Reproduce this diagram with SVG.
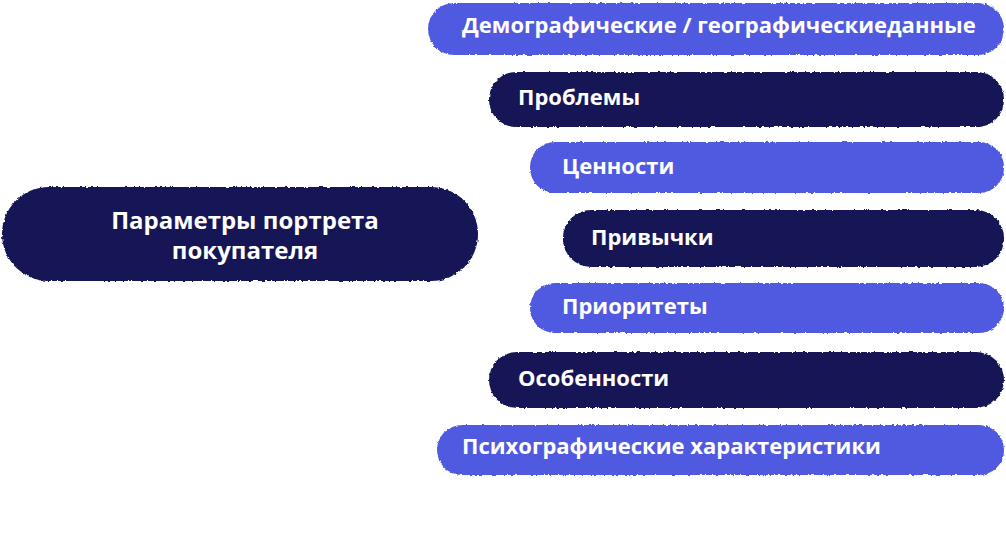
<svg xmlns="http://www.w3.org/2000/svg" width="1006" height="537" viewBox="0 0 1006 537">
<defs>
<filter id="rough" x="-2%" y="-10%" width="104%" height="120%">
<feTurbulence type="fractalNoise" baseFrequency="0.35" numOctaves="2" seed="3" result="n"/>
<feDisplacementMap in="SourceGraphic" in2="n" scale="3" xChannelSelector="R" yChannelSelector="G"/>
</filter>
</defs>
<style>
.blue{fill:#4f5ae0;filter:url(#rough)}
.navy{fill:#131856;filter:url(#rough)}
.t{font-family:"Open Sans","Noto Sans","Liberation Sans",sans-serif;font-weight:700;font-size:22px;fill:#ffffff}
.m{font-size:24px;text-anchor:middle}
</style>
<rect width="1006" height="537" fill="#ffffff"/>
<g id="main">
<rect class="navy" x="2" y="187" width="476" height="94" rx="47"/>
<text class="t m" x="245" y="229">Параметры портрета</text>
<text class="t m" x="245" y="259">покупателя</text>
</g>
<g id="n1">
<rect class="blue" x="428" y="3" width="576" height="52" rx="26"/>
<text class="t" x="462" y="33">Демографические / географическиеданные</text>
</g>
<g id="n2">
<rect class="navy" x="489" y="72" width="515" height="55" rx="27"/>
<text class="t" x="518" y="105">Проблемы</text>
</g>
<g id="n3">
<rect class="blue" x="530" y="142" width="474" height="51" rx="25"/>
<text class="t" x="562" y="174">Ценности</text>
</g>
<g id="n4">
<rect class="navy" x="563" y="210" width="441" height="57" rx="28"/>
<text class="t" x="591" y="245">Привычки</text>
</g>
<g id="n5">
<rect class="blue" x="530" y="283" width="474" height="50" rx="25"/>
<text class="t" x="562" y="314">Приоритеты</text>
</g>
<g id="n6">
<rect class="navy" x="489" y="352" width="515" height="56" rx="28"/>
<text class="t" x="518" y="386">Особенности</text>
</g>
<g id="n7">
<rect class="blue" x="437" y="425" width="567" height="50" rx="25"/>
<text class="t" x="462" y="454">Психографические характеристики</text>
</g>
<g id="connectors"></g>
</svg>
